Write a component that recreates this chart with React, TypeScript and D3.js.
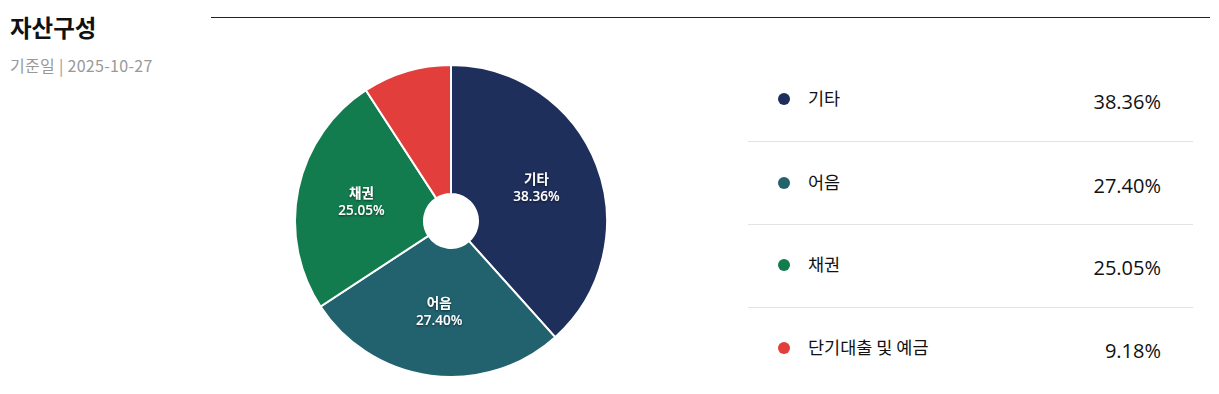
import { arc, pie, PieArcDatum } from "d3";

const categories = ["기타", "어음", "채권", "단기대출 및 예금"];
const values = [38.36, 27.4, 25.05, 9.18];
const colors = ["#1f2f5c", "#21626e", "#137c4e", "#e23e3b"];
// only the big slices get a label inside
const showInside = [true, true, true, false];

const W = 1219;
const H = 394;

type Slice = { name: string; value: number; color: string; inside: boolean };

const slices: Slice[] = categories.map((c, i) => ({
  name: c,
  value: values[i],
  color: colors[i],
  inside: showInside[i],
}));

export default function App() {
  const cx = 451;
  const cy = 221;
  const outer = 156;
  const inner = 27;

  const arcs = pie<Slice>()
    .sort(null)
    .value((d) => d.value)(slices);

  const arcGen = arc<PieArcDatum<Slice>>().innerRadius(inner).outerRadius(outer);

  const rowY = [99, 183, 265, 348];
  const sepY = [141, 224, 307];
  const kr = "'Noto Sans CJK KR', 'Noto Sans', sans-serif";
  const num = "'Open Sans', 'Noto Sans CJK KR', sans-serif";

  return (
    <svg
      width={W}
      height={H}
      style={{ position: "absolute", left: 0, top: 0, background: "#fff" }}
    >
      <defs>
        <filter id="ts" x="-20%" y="-20%" width="140%" height="140%">
          <feDropShadow dx="0" dy="1" stdDeviation="0.8" floodColor="#000" floodOpacity="0.6" />
        </filter>
      </defs>
      <text x={10} y={37} fontFamily={kr} fontSize={23.5} fontWeight={700} fill="#111">
        자산구성
      </text>
      <text x={10} y={72} fontFamily={kr} fontSize={16} fill="#999" letterSpacing={0.3}>
        기준일 | 2025-10-27
      </text>
      <line x1={211} x2={1210} y1={17.5} y2={17.5} stroke="#222" strokeWidth={1} />

      <g transform={`translate(${cx},${cy})`}>
        {arcs.map((a) => (
          <path key={a.data.name} d={arcGen(a) || ""} fill={a.data.color} stroke="#fff" strokeWidth={2} />
        ))}
        {arcs
          .filter((a) => a.data.inside)
          .map((a) => {
            const [x, y] = arcGen.centroid(a);
            return (
              <g key={a.data.name} filter="url(#ts)" fill="#fff" fontSize={13.5} fontWeight={600} textAnchor="middle">
                <text x={x} y={y - 4} fontFamily={kr}>
                  {a.data.name}
                </text>
                <text x={x} y={y + 13} fontFamily={num}>
                  {a.data.value.toFixed(2)}%
                </text>
              </g>
            );
          })}
      </g>

      {sepY.map((y) => (
        <line key={y} x1={748} x2={1193} y1={y + 0.5} y2={y + 0.5} stroke="#e3e3e3" strokeWidth={1} />
      ))}
      {slices.map((s, i) => (
        <g key={s.name}>
          <circle cx={784} cy={rowY[i]} r={6} fill={s.color} />
          <text x={808} y={rowY[i] + 6} fontFamily={kr} fontSize={17.5} fill="#111">
            {s.name}
          </text>
          <text x={1161} y={rowY[i] + 10} fontFamily={num} fontSize={20} fill="#111" textAnchor="end">
            {s.value.toFixed(2)}%
          </text>
        </g>
      ))}
    </svg>
  );
}
